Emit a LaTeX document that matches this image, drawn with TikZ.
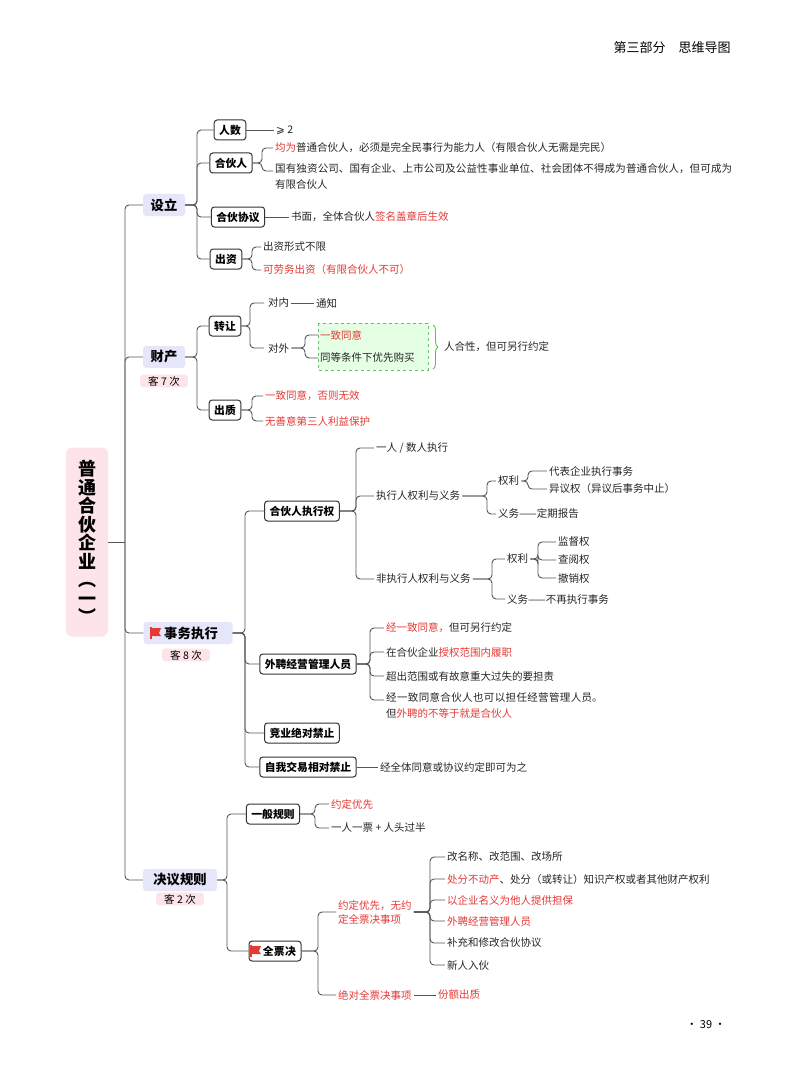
\documentclass[tikz,border=0pt]{standalone}
\usepackage{fontspec}
\setmainfont{Noto Sans CJK SC}
\newfontfamily\djfont{DejaVu Sans}
\XeTeXlinebreaklocale "zh"
\XeTeXlinebreakskip=0pt plus 1pt
\usetikzlibrary{decorations.pathreplacing}
\definecolor{rd}{HTML}{E53935}
\definecolor{ln}{HTML}{555555}
\definecolor{lav}{HTML}{E6E6FA}
\definecolor{pk}{HTML}{FCE4E8}
\tikzset{
  tx/.style={anchor=west,inner sep=2pt,font=\fontsize{10.5}{16}\selectfont,text=black!85},
  bx/.style={draw=black!80,line width=1pt,rounded corners=3pt,fill=white,font=\bfseries\fontsize{10.8}{12}\selectfont,inner xsep=5pt,inner ysep=2pt,minimum height=20pt},
  l1/.style={fill=lav,rounded corners=3pt,font=\bfseries\fontsize{13.3}{15}\selectfont,inner sep=4pt,minimum height=22pt},
  tag/.style={fill=pk,rounded corners=3pt,font=\fontsize{10.5}{12}\selectfont,inner xsep=8pt,inner ysep=1.5pt},
  cn/.style={draw=ln,line width=0.9pt,rounded corners=4pt},
}
\newcommand{\rt}[1]{\textcolor{rd}{#1}}
\newcommand{\flagat}[2]{\fill[rd] (#1-4,#2-5) -- (#1+6,#2-5) -- (#1+4,#2) -- (#1+6,#2+3) -- (#1-4,#2+3) -- cycle; \draw[rd,line width=1.3pt] (#1-4,#2-6) -- (#1-4,#2+6);}
\begin{document}
\begin{tikzpicture}[x=1pt,y=-1pt]
\useasboundingbox (0,0) rectangle (800,1086);
\fill[white] (0,0) rectangle (800,1086);
\node[anchor=west,font=\fontsize{13}{15}\selectfont] (hdr) at (610,48) {第三部分\quad 思维导图};
\node[font=\fontsize{11}{12}\selectfont] (pg) at (706,1025) {· 39 ·};
% root
\node[fill=pk,rounded corners=6pt,minimum width=42pt,minimum height=189pt,align=center,font=\bfseries\fontsize{18}{18.5}\selectfont] (root) at (87,542) {普\\通\\合\\伙\\企\\业\\︵\\一\\︶};
% level1
\node[l1,minimum width=42pt] (sl) at (164,205) {设立};
\node[l1,minimum width=42pt] (cc) at (164,357) {财产};
\node[tag] (t7) at (164,381) {客 7 次};
\node[l1,minimum width=89pt,text width=60pt,align=right] (sw) at (188,633) {事务执行};
\flagat{155}{633}
\node[tag] (t8) at (186,655) {客 8 次};
\node[l1,minimum width=74pt] (jy) at (180,880) {决议规则};
\node[tag] (t2) at (180,899) {客 2 次};
\draw[cn] (root.east) -- ++(17,0);
\draw[cn] (125,542) |- (sl.west);
\draw[cn] (125,542) |- (cc.west);
\draw[cn] (125,542) |- (sw.west);
\draw[cn] (125,542) |- (jy.west);
% 设立
\node[bx] (rs) at (230,130) {人数};
\node[bx] (hh) at (231,163) {合伙人};
\node[bx] (xy) at (238,217) {合伙协议};
\node[bx] (cz) at (226,259) {出资};
\foreach \n in {rs,hh,xy,cz} \draw[cn] (sl.east) -- (197,205) |- (\n.west);
\node[tx] (rs1) at (274,130) {{\djfont ⩾} 2};
\draw[cn] (rs.east) -- (rs1.west);
\node[tx] (hh1) at (273,148) {\rt{均为}普通合伙人，必须是完全民事行为能力人（有限合伙人无需是完民）};
\node[tx,anchor=north west,text width=460pt,align=left] (hh2) at (273,161) {国有独资公司、国有企业、上市公司及公益性事业单位、社会团体不得成为普通合伙人，但可成为有限合伙人};
\draw[cn] (hh.east) -- (262,163) |- (hh1.west);
\draw[cn] (hh.east) -- (262,163) |- (273,171);
\node[tx] (xy1) at (289,217) {书面，全体合伙人\rt{签名盖章后生效}};
\draw[cn] (xy.east) -- (xy1.west);
\node[tx] (cz1) at (261,247) {出资形式不限};
\node[tx] (cz2) at (261,270) {\rt{可劳务出资（有限合伙人不可）}};
\foreach \n in {cz1,cz2} \draw[cn] (cz.east) -- (252,259) |- (\n.west);
% 财产
\node[bx] (zr) at (225,326) {转让};
\node[bx] (cq) at (225,410) {出质};
\foreach \n in {zr,cq} \draw[cn] (cc.east) -- (197,357) |- (\n.west);
\node[tx] (dn) at (266,303) {对内};
\node[tx] (tz) at (314,303) {通知};
\draw[cn] (dn.east) -- (tz.west);
\node[tx] (dw) at (266,348) {对外};
\foreach \n in {dn,dw} \draw[cn] (zr.east) -- (250,326) |- ([xshift=-2pt]\n.west);
\fill[green!10] (318,323) rectangle (428,370);
\draw[green!60!black!60,dashed,line width=0.8pt] (318,323) rectangle (428,370);
\node[tx] (yz) at (318,335) {\rt{一致同意}};
\node[tx] (td) at (318,358) {同等条件下优先购买};
\foreach \n in {yz,td} \draw[cn] (dw.east) -- (305,348) |- (\n.west);
\draw[green!70!black!70,line width=0.9pt,decorate,decoration={brace,amplitude=5pt}] (433,325) -- (433,369);
\node[tx] (rhx) at (442,347) {人合性，但可另行约定};
\node[tx] (cq1) at (263,396) {\rt{一致同意，否则无效}};
\node[tx] (cq2) at (263,421) {\rt{无善意第三人利益保护}};
\foreach \n in {cq1,cq2} \draw[cn] (cq.east) -- (252,410) |- (\n.west);
% 事务执行
\node[bx] (zx) at (302,511) {合伙人执行权};
\node[bx] (wp) at (308,664) {外聘经营管理人员};
\node[bx] (jj) at (302,733) {竞业绝对禁止};
\node[bx] (zj) at (308,767) {自我交易相对禁止};
\foreach \n in {zx,wp,jj,zj} \draw[cn] (sw.east) -- (245,633) |- (\n.west);
\node[tx] (a1) at (374,448) {一人 / 数人执行};
\node[tx] (a2) at (374,496) {执行人权利与义务};
\node[tx] (a3) at (374,579) {非执行人权利与义务};
\foreach \n in {a1,a2,a3} \draw[cn] (zx.east) -- (356,511) |- (\n.west);
\node[tx] (b1) at (496,481) {权利};
\node[tx] (b2) at (496,514) {义务——定期报告};
\foreach \n in {b1,b2} \draw[cn] (a2.east) -- (487,496) |- (\n.west);
\node[tx] (c1) at (547,471) {代表企业执行事务};
\node[tx] (c2) at (547,489) {异议权（异议后事务中止）};
\foreach \n in {c1,c2} \draw[cn] (b1.east) -- (528,481) |- (\n.west);
\node[tx] (d1) at (505,559) {权利};
\node[tx] (d2) at (505,599) {义务——不再执行事务};
\foreach \n in {d1,d2} \draw[cn] (a3.east) -- (492,579) |- (\n.west);
\node[tx] (e1) at (556,542) {监督权};
\node[tx] (e2) at (556,560) {查阅权};
\node[tx] (e3) at (556,578) {撤销权};
\foreach \n in {e1,e2,e3} \draw[cn] (d1.east) -- (538,559) |- (\n.west);
\node[tx] (w1) at (384,628) {\rt{经一致同意，}但可另行约定};
\node[tx] (w2) at (384,652) {在合伙企业\rt{授权范围内履职}};
\node[tx] (w3) at (384,676) {超出范围或有故意重大过失的要担责};
\node[tx,anchor=north west,text width=224pt,align=left] (w4) at (384,690) {经一致同意合伙人也可以担任经营管理人员。但\rt{外聘的不等于就是合伙人}};
\foreach \n in {w1,w2,w3} \draw[cn] (wp.east) -- (370,664) |- (\n.west);
\draw[cn] (wp.east) -- (370,664) |- (384,700);
\node[tx] (z1) at (378,767) {经全体同意或协议约定即可为之};
\draw[cn] (zj.east) -- (z1.west);
% 决议规则
\node[bx] (yb) at (273,814) {一般规则};
\node[bx,text width=42pt,align=right] (qp) at (275,951) {全票决};
\flagat{255}{951}
\foreach \n in {yb,qp} \draw[cn] (jy.east) -- (227,880) |- (\n.west);
\node[tx] (y1) at (329,804) {\rt{约定优先}};
\node[tx] (y2) at (329,828) {一人一票 + 人头过半};
\foreach \n in {y1,y2} \draw[cn] (yb.east) -- (315,814) |- (\n.west);
\node[tx,align=left,font=\fontsize{10.5}{14}\selectfont] (q1) at (336,912) {\rt{约定优先，无约}\\\rt{定全票决事项}};
\node[tx] (q2) at (336,995) {\rt{绝对全票决事项}};
\node[tx] (q3) at (436,995) {\rt{份额出质}};
\draw[cn] (q2.east) -- (q3.west);
\foreach \n in {q1,q2} \draw[cn] (qp.east) -- (318,951) |- (\n.west);
\node[tx] (s1) at (445,857) {改名称、改范围、改场所};
\node[tx] (s2) at (445,879) {\rt{处分不动产}、处分（或转让）知识产权或者其他财产权利};
\node[tx] (s3) at (445,900) {\rt{以企业名义为他人提供担保}};
\node[tx] (s4) at (445,921) {\rt{外聘经营管理人员}};
\node[tx] (s5) at (445,943) {补充和修改合伙协议};
\node[tx] (s6) at (445,965) {新人入伙};
\foreach \n in {s1,s2,s3,s4,s5,s6} \draw[cn] (q1.east) -- (430,912) |- (\n.west);
\end{tikzpicture}
\end{document}
